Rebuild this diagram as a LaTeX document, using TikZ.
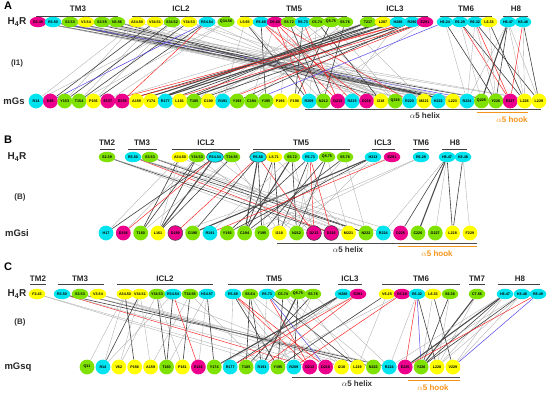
\documentclass[tikz,border=0pt]{standalone}
\usepackage{fontspec}
\setmainfont{Liberation Sans}
\usetikzlibrary{shapes.geometric}
\definecolor{cM}{RGB}{236,0,140}
\definecolor{cC}{RGB}{0,228,240}
\definecolor{cG}{RGB}{128,226,0}
\definecolor{cY}{RGB}{255,255,0}
\definecolor{corange}{RGB}{247,148,29}
\definecolor{cblue}{RGB}{85,70,235}
\pgfdeclarelayer{bg}
\pgfsetlayers{bg,main}
\begin{document}
\begin{tikzpicture}[x=1pt,y=-1pt,
  rec/.style={ellipse, minimum width=16.5pt, minimum height=10.5pt, inner sep=0pt,
    font=\fontsize{3.7}{4}\selectfont\bfseries},
  gp/.style={circle, minimum size=14.8pt, inner sep=0pt,
    font=\fontsize{3.7}{4}\selectfont\bfseries},
  hl/.style={draw=black!75, line width=0.9pt},
  hd/.style={font=\fontsize{8}{9}\selectfont\bfseries, text=black!85},
  plab/.style={font=\fontsize{11}{12}\selectfont\bfseries},
  rlab/.style={font=\fontsize{10}{11}\selectfont\bfseries, text=black!85},
  glab/.style={font=\fontsize{9.5}{11}\selectfont\bfseries, text=black!85},
  slab/.style={font=\fontsize{8}{9}\selectfont\bfseries, text=black!80},
  hx/.style={font=\fontsize{8}{9}\selectfont\bfseries, text=black!80},
  hk/.style={font=\fontsize{8}{9}\selectfont\bfseries, text=corange},
  hxl/.style={draw=black!70, line width=1pt},
  hkl/.style={draw=corange, line width=0.9pt},
  mark2/.style={draw=black!75, line width=0.5pt},
  ln-t/.style={draw=gray!65, line width=0.35pt},
  ln-m/.style={draw=gray!50!black, line width=0.6pt},
  ln-k/.style={draw=black!70, line width=1.1pt},
  ln-r/.style={draw=red!90, line width=0.45pt},
  ln-b/.style={draw=cblue, line width=0.5pt}]
\useasboundingbox (0,0) rectangle (550,392);

% ================= PANEL A =================
\node[plab] (labA) at (8,6) {A};
\node[rlab] (hA) at (17,22) {H\textsubscript{4}R};
\node[slab] (iA) at (17,63) {(I1)};
\node[glab] (mA) at (14,101) {mGs};
\foreach \tx/\x/\a/\b [count=\i] in {TM3/78/36/118, ICL2/181/132/230, TM5/294/240/347, ICL3/395/362/428, TM6/466/440/492, H8/516/503/528}{
  \node[hd] (hdA\i) at (\x,9) {\tx};
  \coordinate (hdAa\i) at (\a,16);
  \coordinate (hdAb\i) at (\b,16);
  \draw[hl] (hdAa\i) -- (hdAb\i);
}
\foreach \n/\x/\c/\t in {1/38/M/D3.49, 2/53/C/R3.50, 3/70/G/S3.53, 4/86/Y/V3.54, 5/102/G/S3.55, 6/117/G/N3.56, 7/137/Y/A34.50, 8/155/Y/V34.51, 9/172/G/S34.52, 10/189/Y/Y34.53, 11/207/C/R34.54, 12/226/G/Q34.56, 13/245/Y/L5.65, 14/261/C/R5.68, 15/275/M/D5.69, 16/289/G/S5.72, 17/303/C/R5.73, 18/317/G/C5.74, 19/331/G/Q5.75, 20/345/G/S5.76, 21/368/G/T217, 22/383/Y/L287, 23/398/C/H288, 24/412/C/R290, 25/425/M/E291, 26/445/C/H6.24, 27/460/C/R6.29, 28/475/C/R6.32, 29/489/Y/L6.33, 30/508/C/H8.47, 31/523/C/K8.48}{
  \node[rec, fill=c\c] (ra\n) at (\x,22) {\t};
}
\foreach \t/\c [count=\i] in {R14/C, D85/M, Y153/G, T154/G, P156/Y, E157/M, D158/M, A159/Y, Y174/Y, R177/C, L181/Y, T185/G, G190/Y, R191/C, Y193/G, C194/G, Y195/G, P196/Y, F198/Y, R209/C, N212/G, D213/M, R215/C, D216/M, I218/Y, Q219/G, R220/C, M221/Y, H222/C, L223/Y, R224/C, Q225/G, Y226/G, E227/M, L228/Y, L229/Y}{
  \node[gp, fill=c\c] (ga\i) at ({36+(\i-1)*14.37},101) {\t};
}
\coordinate (axA1) at (305,109.5); \coordinate (axA2) at (541,109.5);
\coordinate (akA1) at (477,112.8); \coordinate (akA2) at (528,112.8);
\draw[hxl] (axA1) -- (axA2);
\draw[hkl] (akA1) -- (akA2);
\node[hx] (txA) at (425,116) {$\alpha$5 helix};
\node[hk] (tkA) at (512,120) {$\alpha$5 hook};
\begin{pgfonlayer}{bg}
\foreach \s/\e/\st in {1/29/t, 1/31/m, 1/30/t, 2/30/k, 2/33/m, 2/29/t, 2/32/b, 2/36/t, 3/30/m, 3/31/t, 3/26/t, 4/30/m, 4/33/t, 4/36/t, 5/27/t, 5/30/m, 5/25/t, 6/26/m, 6/29/t, 6/31/t,
 7/1/t, 7/3/t, 7/27/t, 8/2/m, 8/4/t, 8/29/t, 9/3/m, 9/5/t, 10/1/t, 10/4/m, 10/30/t, 10/26/t, 11/2/b, 11/5/m, 11/7/r, 11/25/t, 12/4/t, 12/6/t, 12/24/t,
 13/14/t, 13/20/m, 13/21/t, 14/22/r, 14/24/r, 14/17/m, 14/25/t, 15/20/r, 15/23/r, 15/16/t, 15/27/r, 16/21/m, 16/25/t, 16/18/t, 17/22/r, 17/19/m, 17/26/t, 18/20/t, 18/25/m, 18/12/t, 19/19/m, 19/26/t, 19/13/t, 20/16/t, 20/21/m, 20/28/t,
 21/9/k, 21/11/m, 21/13/t, 21/6/t, 22/8/k, 22/10/m, 22/12/t, 23/7/m, 23/9/k, 23/14/t, 23/22/t, 24/6/r, 24/7/r, 24/11/k, 24/15/m, 25/10/r, 25/14/r, 25/12/m, 25/20/t,
 26/16/b, 26/31/t, 26/33/m, 27/34/r, 27/35/m, 27/32/t, 28/34/r, 28/36/m, 28/33/t, 28/31/t, 29/35/m, 29/33/t,
 30/32/k, 30/33/m, 30/35/t, 30/36/t, 30/31/t, 31/34/r, 31/36/m, 31/35/t}{
  \draw[ln-\st] (ra\s) -- (ga\e);
}
\end{pgfonlayer}

% ================= PANEL B =================
\node[plab] (labB) at (8,140) {B};
\node[rlab] (hB) at (17,157) {H\textsubscript{4}R};
\node[slab] (iB) at (20,197) {(B)};
\node[glab] (mB) at (17,233) {mGsi};
\foreach \tx/\x/\a/\b [count=\i] in {TM2/107/100/115, TM3/142/128/157, ICL2/206/172/240, TM5/301/253/350, ICL3/383/372/395, TM6/421/413/429, H8/455/442/467}{
  \node[hd] (hdB\i) at (\x,143) {\tx};
  \coordinate (hdBa\i) at (\a,149);
  \coordinate (hdBb\i) at (\b,149);
  \draw[hl] (hdBa\i) -- (hdBb\i);
}
\foreach \n/\x/\c/\t in {1/107/G/S2.39, 2/133/C/R3.50, 3/150/G/S3.53, 4/180/Y/A34.50, 5/197/G/Y34.53, 7/232/G/T34.55, 9/274/Y/L5.71, 10/292/G/S5.72, 11/310/C/R5.73, 12/327/G/Q5.75, 13/345/G/S5.76, 14/373/C/H213, 15/392/M/E291, 16/421/C/R6.29, 17/447/C/H8.47, 18/463/C/K8.48}{
  \node[rec, fill=c\c] (rb\n) at (\x,157) {\t};
}
\node[rec, fill=cC, mark2] (rb6) at (215,157) {R34.54};
\node[rec, fill=cC, mark2] (rb8) at (258,157) {R5.68};
\foreach \t/\c [count=\i] in {H17/C, D158/M, T160/G, L161/Y, D189/M, G190/G, R191/C, Y193/G, C194/G, Y195/G, I218/Y, N212/G, D213/M, D216/M, M221/Y, N222/G, R224/C, D225/M, C226/G, G227/G, L228/Y, F229/Y}{
  \node[gp, fill=c\c] (gb\i) at ({106+(\i-1)*17.33},233) {\t};
}
\foreach \i in {5,13,14}{ \draw[mark2] (gb\i) circle (7.4pt); }
\coordinate (axB1) at (277,243); \coordinate (axB2) at (477,243);
\coordinate (akB1) at (398,246.3); \coordinate (akB2) at (477,246.3);
\draw[hxl] (axB1) -- (axB2);
\draw[hkl] (akB1) -- (akB2);
\node[hx] (txB) at (348,250) {$\alpha$5 helix};
\node[hk] (tkB) at (437,254) {$\alpha$5 hook};
\begin{pgfonlayer}{bg}
\foreach \s/\e/\st in {1/13/t, 1/14/m, 1/15/t, 2/14/r, 2/16/m, 2/17/t, 2/15/t, 3/16/m, 3/18/t, 3/17/t,
 4/1/t, 4/3/m, 4/4/t, 4/15/t, 5/2/t, 5/3/m, 5/4/m, 5/12/t, 6/2/r, 6/1/m, 6/4/k, 6/13/t, 7/3/t, 7/4/m, 7/11/t,
 8/5/r, 8/13/r, 8/6/m, 8/9/k, 8/10/m, 9/9/m, 9/11/m, 9/15/t, 9/10/t, 10/7/t, 10/12/m, 10/13/t, 10/9/k,
 11/13/r, 11/14/r, 11/11/m, 11/12/t, 11/8/m, 12/10/m, 12/12/m, 12/15/t, 13/11/t, 13/16/t, 13/9/m,
 14/6/k, 14/8/m, 14/12/t, 15/7/r, 15/5/t, 16/10/t, 16/9/t,
 17/18/m, 17/19/k, 17/20/t, 17/21/m, 17/17/t, 18/21/m, 18/22/t}{
  \draw[ln-\st] (rb\s) -- (gb\e);
}
\end{pgfonlayer}

% ================= PANEL C =================
\node[plab] (labC) at (8,267) {C};
\node[rlab] (hC) at (17,294) {H\textsubscript{4}R};
\node[slab] (iC) at (20,322) {(B)};
\node[glab] (mC) at (18,367) {mGsq};
\foreach \tx/\x/\a/\b [count=\i] in {TM2/38/30/46, TM3/80/58/104, ICL2/165/117/213, TM5/274/228/320, ICL3/350/338/362, TM6/421/382/460, TM7/477/469/485, H8/520/498/540}{
  \node[hd] (hdC\i) at (\x,279) {\tx};
  \coordinate (hdCa\i) at (\a,284);
  \coordinate (hdCb\i) at (\b,284);
  \draw[hl] (hdCa\i) -- (hdCb\i);
}
\foreach \n/\x/\c/\t in {1/37/Y/F2.43, 2/62/C/R3.50, 3/80/G/S3.53, 4/98/Y/V3.54, 5/125/Y/A34.50, 6/140/Y/V34.51, 7/157/G/Y34.53, 8/173/C/R34.54, 9/190/G/T34.55, 10/207/C/H34.57, 11/233/C/R5.68, 12/250/G/S5.64, 13/267/C/R5.73, 14/283/G/C5.74, 15/298/G/Q5.75, 16/313/G/S5.76, 17/343/C/H288, 18/358/M/E291, 19/387/Y/V6.25, 20/402/M/E6.28, 21/417/C/R6.32, 22/433/Y/L6.33, 23/450/G/S6.36, 24/477/G/C7.56, 25/505/C/H8.47, 26/522/C/K8.48, 27/538/C/R8.49}{
  \node[rec, fill=c\c] (rc\n) at (\x,294) {\t};
}
\foreach \t/\c [count=\i] in {Q11/G, R14/C, V62/Y, P156/Y, A159/Y, T160/G, P161/Y, E162/M, Y174/G, R177/C, T185/G, R191/C, Y195/G, R209/C, D213/M, D216/M, I218/Y, L219/Y, N222/G, R224/C, E225/M, Y226/G, L228/Y, V229/Y}{
  \node[gp, fill=c\c] (gc\i) at ({87+(\i-1)*15.91},367) {\t};
}
\coordinate (axC1) at (292,377); \coordinate (axC2) at (460,377);
\coordinate (akC1) at (408,380.3); \coordinate (akC2) at (460,380.3);
\draw[hxl] (axC1) -- (axC2);
\draw[hkl] (akC1) -- (akC2);
\node[hx] (txC) at (357,384) {$\alpha$5 helix};
\node[hk] (tkC) at (433,388) {$\alpha$5 hook};
\begin{pgfonlayer}{bg}
\foreach \s/\e/\st in {1/14/t, 1/13/t, 2/15/r, 2/16/t, 2/20/m, 3/19/m, 3/20/t, 4/18/t, 4/19/t, 4/17/t,
 5/1/t, 5/2/t, 5/4/m, 6/2/m, 6/3/t, 6/5/t, 7/3/t, 7/6/m, 7/7/t, 7/17/t, 8/8/r, 8/6/m, 8/2/t, 9/7/m, 9/5/t, 9/12/t, 10/6/t, 10/9/m, 10/8/t,
 11/15/r, 11/16/r, 11/13/m, 11/14/t, 11/10/t, 12/11/m, 12/12/m, 12/14/t, 12/17/t, 13/15/r, 13/16/b, 13/12/t, 13/18/m, 14/13/m, 14/17/t, 14/19/t, 15/12/k, 15/14/m, 15/18/t, 16/11/m, 16/13/t, 16/20/t,
 17/9/k, 17/10/m, 17/11/t, 18/10/r, 18/12/r, 18/9/t, 19/13/m, 19/18/t, 20/14/r, 20/12/t,
 21/21/r, 21/22/b, 21/23/m, 21/20/t, 22/22/t, 22/24/m, 23/22/m, 23/23/t, 24/22/k, 24/23/t,
 25/21/k, 25/22/m, 25/23/t, 25/24/t, 25/20/t, 26/22/m, 26/23/t, 26/24/t, 26/21/t, 27/21/r, 27/24/b}{
  \draw[ln-\st] (rc\s) -- (gc\e);
}
\end{pgfonlayer}
\end{tikzpicture}
\end{document}
